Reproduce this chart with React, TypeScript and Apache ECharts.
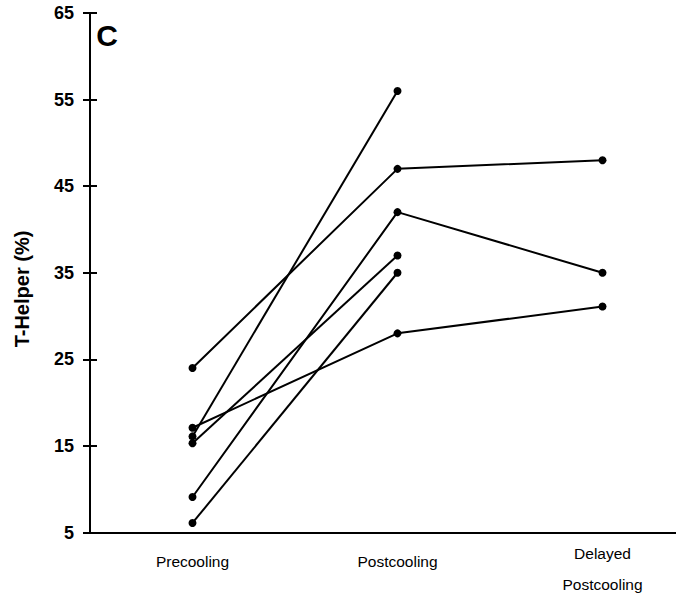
import React, { useEffect, useRef } from "react";
import * as echarts from "echarts";

const categories = ["Precooling", "Postcooling", "Delayed\nPostcooling"];
const yTicks = { min: 5, max: 65, interval: 10 };
const subject1 = [24, 47, 48];
const subject2 = [16.1, 56, null];
const subject3 = [17.1, 28, 31.1];
const subject4 = [15.3, 37, null];
const subject5 = [9.1, 42, 35];
const subject6 = [6.1, 35, null];
const subjects = [subject1, subject2, subject3, subject4, subject5, subject6];

const FONT = "Arial, 'Liberation Sans', Helvetica, sans-serif";

export default function App() {
  const ref = useRef<HTMLDivElement>(null);
  useEffect(() => {
    if (!ref.current) return;
    const chart = echarts.init(ref.current, undefined, { renderer: "svg" });
    const axisCommon = {
      type: "value",
      min: yTicks.min,
      max: yTicks.max,
      interval: yTicks.interval,
      position: "left",
      splitLine: { show: false },
    };
    const xData = categories.map((c) =>
      c.indexOf("\n") >= 0
        ? { value: c, textStyle: { verticalAlign: "middle", lineHeight: 31 } }
        : { value: c, textStyle: { verticalAlign: "bottom", lineHeight: 15 } }
    );
    chart.setOption({
      animation: false,
      backgroundColor: "#fff",
      grid: { left: 90, top: 13, right: 0, height: 520, containLabel: false },
      xAxis: {
        type: "category",
        data: xData,
        boundaryGap: true,
        axisLine: { lineStyle: { color: "#000", width: 2 } },
        axisTick: { alignWithLabel: true, length: 12, lineStyle: { color: "#000", width: 2 } },
        axisLabel: {
          color: "#000",
          fontFamily: FONT,
          fontSize: 15.5,
          margin: 36.5,
          interval: 0,
        },
        splitLine: { show: false },
      },
      yAxis: [
        {
          ...axisCommon,
          axisLine: { show: true, lineStyle: { color: "#000", width: 2 } },
          axisTick: { show: true, length: 7, lineStyle: { color: "#000", width: 2 } },
          axisLabel: {
            color: "#000",
            fontFamily: FONT,
            fontSize: 18,
            fontWeight: "bold",
            margin: 16,
          },
        },
        {
          ...axisCommon,
          axisLine: { show: false },
          axisTick: { show: true, inside: true, length: 7, lineStyle: { color: "#000", width: 2 } },
          axisLabel: { show: false },
        },
      ],
      graphic: [
        {
          type: "text",
          x: 22,
          y: 289,
          rotation: Math.PI / 2,
          style: {
            text: "T-Helper (%)",
            fontFamily: FONT,
            fontSize: 20,
            fontWeight: "bold",
            fill: "#000",
            align: "center",
            verticalAlign: "middle",
          },
        },
        {
          type: "text",
          x: 107,
          y: 35,
          style: {
            text: "C",
            fontFamily: FONT,
            fontSize: 30,
            fontWeight: "bold",
            fill: "#000",
            align: "center",
            verticalAlign: "middle",
          },
        },
      ],
      series: subjects.map((d, i) => ({
        name: "Subject " + (i + 1),
        type: "line",
        yAxisIndex: 0,
        data: d,
        symbol: "circle",
        symbolSize: 8,
        connectNulls: false,
        lineStyle: { color: "#000", width: 2 },
        itemStyle: { color: "#000" },
      })),
    });
    return () => chart.dispose();
  }, []);
  return (
    <div style={{ position: "fixed", left: 0, top: 0, width: 676, height: 600, overflow: "hidden", background: "#fff" }}>
      <div ref={ref} style={{ width: 705, height: 600 }} />
    </div>
  );
}
